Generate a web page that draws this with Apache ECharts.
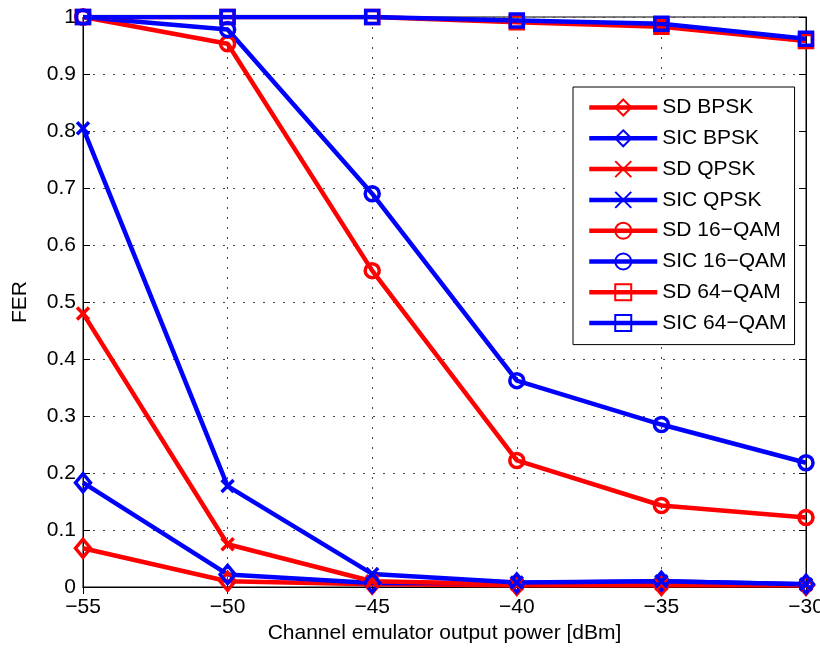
<!DOCTYPE html>
<html>
<head>
<meta charset="utf-8">
<script src="https://cdn.jsdelivr.net/npm/echarts@6/dist/echarts.min.js"></script>
<style>
  html, body { margin: 0; padding: 0; background: #fff; }
  #main { width: 820px; height: 649px; }
</style>
</head>
<body>
<div id="main"></div>
<script>
// x positions (channel emulator output power, dBm)
var power = [-55, -50, -45, -40, -35, -30];

// FER values
var sdBpsk   = [0.068, 0.010, 0.005, 0.003, 0.003, 0.003];
var sicBpsk  = [0.183, 0.022, 0.007, 0.007, 0.010, 0.005];
var sdQpsk   = [0.480, 0.075, 0.010, 0.005, 0.005, 0.004];
var sicQpsk  = [0.805, 0.177, 0.023, 0.008, 0.010, 0.005];
var sd16     = [1.000, 0.953, 0.555, 0.222, 0.143, 0.122];
var sic16    = [1.000, 0.978, 0.690, 0.362, 0.285, 0.218];
var sd64     = [1.000, 1.000, 1.000, 0.991, 0.983, 0.958];
var sic64    = [1.000, 1.000, 1.000, 0.994, 0.988, 0.962];

var RED = '#ff0000';
var BLUE = '#0000ff';
var crossPath = 'path://M0,0L10,10M10,0L0,10';

function pairs(vals) {
  return power.map(function (p, i) { return [p, vals[i]]; });
}

// one line series, MATLAB style: thick line, hollow marker
function mkSeries(name, vals, color, symbol, size) {
  return {
    name: name,
    type: 'line',
    data: pairs(vals),
    symbol: symbol,
    symbolSize: size,
    showAllSymbol: true,
    lineStyle: { color: color, width: 4.5 },
    itemStyle: { color: 'rgba(255,255,255,0)', borderColor: color, borderWidth: 3.5 },
    emphasis: { disabled: true },
    animation: false
  };
}

var series = [
  mkSeries('SD BPSK', sdBpsk, RED, 'diamond', [15, 18]),
  mkSeries('SIC BPSK', sicBpsk, BLUE, 'diamond', [15, 18]),
  mkSeries('SD QPSK', sdQpsk, RED, crossPath, 12),
  mkSeries('SIC QPSK', sicQpsk, BLUE, crossPath, 12),
  mkSeries('SD 16\u2212QAM', sd16, RED, 'circle', 14),
  mkSeries('SIC 16\u2212QAM', sic16, BLUE, 'circle', 14),
  mkSeries('SD 64\u2212QAM', sd64, RED, 'rect', 13),
  mkSeries('SIC 64\u2212QAM', sic64, BLUE, 'rect', 13)
];

var font = 'Liberation Sans, Arial, Helvetica, sans-serif';
var axisTxt = { color: '#000', fontSize: 21, fontFamily: font };
var dotted = { show: true, lineStyle: { color: '#444', type: [2, 8], width: 1 } };

var myChart = echarts.init(document.getElementById('main'));
myChart.setOption({
  animation: false,
  textStyle: { fontFamily: font },
  grid: { left: 83, right: 14, top: 17, bottom: 62, outerBoundsMode: 'none', show: true, borderColor: '#000', borderWidth: 1 },
  legend: {
    orient: 'vertical',
    left: 573,
    top: 87,
    padding: [10, 8, 11, 14],
    itemWidth: 68,
    itemHeight: 20,
    itemGap: 9.8,
    backgroundColor: '#fff',
    borderColor: '#000',
    borderWidth: 1,
    borderRadius: 0,
    lineStyle: { width: 4.5 },
    textStyle: { color: '#000', fontSize: 21, fontFamily: font },
    data: series.map(function (s) { return s.name; })
  },
  xAxis: [{
    type: 'value',
    min: -55,
    max: -30,
    interval: 5,
    name: 'Channel emulator output power [dBm]',
    nameLocation: 'middle',
    nameGap: 36,
    nameTextStyle: axisTxt,
    axisLine: { onZero: false, lineStyle: { color: '#000' } },
    axisTick: { inside: true, length: 7, lineStyle: { color: '#000' } },
    axisLabel: Object.assign({ margin: 10, formatter: function (v) { return String(v).replace('-', '\u2212'); } }, axisTxt),
    splitLine: dotted
  }, {
    type: 'value',
    position: 'top',
    min: -55,
    max: -30,
    interval: 5,
    axisLine: { lineStyle: { color: '#000' } },
    axisTick: { inside: true, length: 7, lineStyle: { color: '#000' } },
    axisLabel: { show: false },
    splitLine: { show: false }
  }],
  yAxis: [{
    type: 'value',
    min: 0,
    max: 1,
    interval: 0.1,
    name: 'FER',
    nameLocation: 'middle',
    nameGap: 52,
    nameTextStyle: axisTxt,
    axisLine: { lineStyle: { color: '#000' } },
    axisTick: { inside: true, length: 7, lineStyle: { color: '#000' } },
    axisLabel: Object.assign({ margin: 7 }, axisTxt),
    splitLine: dotted
  }, {
    type: 'value',
    position: 'right',
    min: 0,
    max: 1,
    interval: 0.1,
    axisLine: { show: true, lineStyle: { color: '#000' } },
    axisTick: { show: true, inside: true, length: 7, lineStyle: { color: '#000' } },
    axisLabel: { show: false },
    splitLine: { show: false }
  }],
  series: series
});
</script>
</body>
</html>
